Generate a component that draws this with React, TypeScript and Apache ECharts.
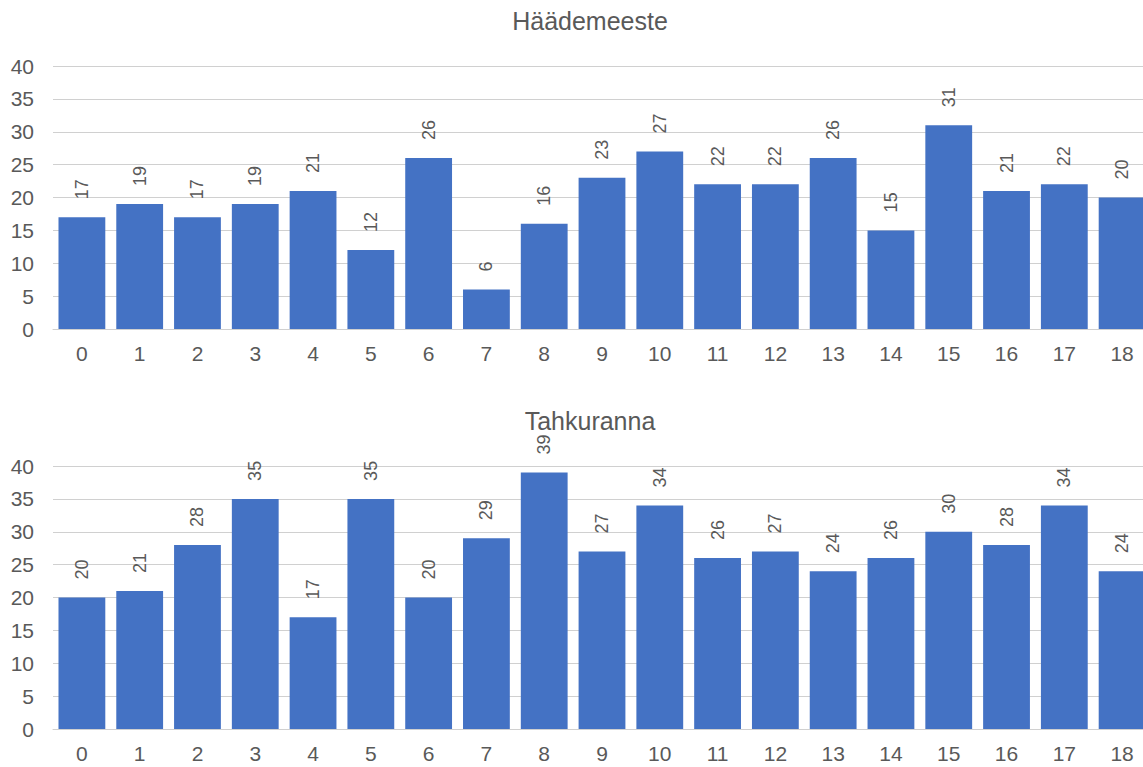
import React, { useEffect, useRef } from "react";
import * as echarts from "echarts";

const categories = ["0","1","2","3","4","5","6","7","8","9","10","11","12","13","14","15","16","17","18"];
const haademeesteValues = [17,19,17,19,21,12,26,6,16,23,27,22,22,26,15,31,21,22,20];
const tahkurannaValues = [20,21,28,35,17,35,20,29,39,27,34,26,27,24,26,30,28,34,24];
const titles = ["Häädemeeste", "Tahkuranna"];
const yTicks = { min: 0, max: 40, interval: 5 };

const FONT = "'Liberation Sans', Arial, sans-serif";
const GRAY = "#595959";
const BLUE = "#4472C4";

export default function App() {
  const ref = useRef<HTMLDivElement>(null);
  useEffect(() => {
    if (!ref.current) return;
    const chart = echarts.init(ref.current, null, { renderer: "svg" });
    const grids = [
      { left: 53, width: 1098, top: 66, height: 263 },
      { left: 53, width: 1098, top: 466, height: 263 },
    ];
    const xAxis = grids.map((_, i) => ({
      type: "category",
      gridIndex: i,
      data: categories,
      axisTick: { show: false },
      axisLine: { show: true, lineStyle: { color: "#d0d0d0", width: 1 } },
      axisLabel: { color: GRAY, fontSize: 21, fontFamily: FONT, margin: 14 },
    }));
    const yAxis = grids.map((_, i) => ({
      type: "value",
      gridIndex: i,
      min: yTicks.min,
      max: yTicks.max,
      interval: yTicks.interval,
      axisLine: { show: false },
      axisTick: { show: false },
      splitLine: { lineStyle: { color: "#d0d0d0", width: 1 } },
      axisLabel: { color: GRAY, fontSize: 21, fontFamily: FONT, margin: 19 },
    }));
    const seriesData = [haademeesteValues, tahkurannaValues];
    const series = seriesData.map((d, i) => ({
      type: "bar",
      xAxisIndex: i,
      yAxisIndex: i,
      data: d,
      barCategoryGap: "19%",
      itemStyle: { color: BLUE },
      label: {
        show: true,
        position: "top",
        distance: 18,
        rotate: 90,
        align: "left",
        verticalAlign: "middle",
        color: GRAY,
        fontSize: 18,
        fontFamily: FONT,
      },
    }));
    chart.setOption({
      animation: false,
      backgroundColor: "#ffffff",
      title: [
        { text: titles[0], left: 585, top: 3, textAlign: "center", textStyle: { color: GRAY, fontSize: 25, fontWeight: "normal", fontFamily: FONT } },
        { text: titles[1], left: 585, top: 403, textAlign: "center", textStyle: { color: GRAY, fontSize: 25, fontWeight: "normal", fontFamily: FONT } },
      ],
      grid: grids,
      xAxis,
      yAxis,
      series,
    });
    return () => chart.dispose();
  }, []);
  return (
    <div style={{ position: "fixed", left: 0, top: 0, width: 1143, height: 767, overflow: "hidden", background: "#fff" }}>
      <div ref={ref} style={{ width: 1170, height: 767 }} />
    </div>
  );
}
